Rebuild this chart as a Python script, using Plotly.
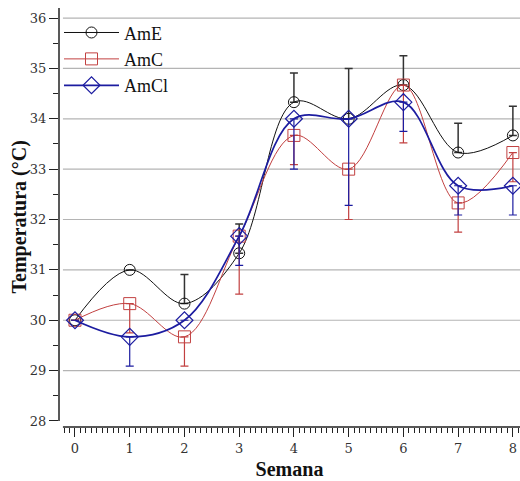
import plotly.graph_objects as go

semana = [0, 1, 2, 3, 4, 5, 6, 7, 8]

ame = [30.0, 31.0, 30.33, 31.33, 34.33, 34.0, 34.67, 33.33, 33.67]
ame_err_plus = [0, 0, 0.58, 0.58, 0.58, 1.0, 0.58, 0.58, 0.58]

amc = [30.0, 30.33, 29.67, 31.67, 33.67, 33.0, 34.67, 32.33, 33.33]
amc_err_minus = [0, 0.58, 0.58, 1.15, 0.58, 1.0, 1.15, 0.58, 0.58]

amcl = [30.0, 29.67, 30.0, 31.67, 34.0, 34.0, 34.33, 32.67, 32.67]
amcl_err_minus = [0, 0.58, 0, 0.58, 1.0, 1.72, 0.58, 0.58, 0.58]

y_ticks = [28, 29, 30, 31, 32, 33, 34, 35, 36]
grid_vals = [29, 30, 31, 32, 33, 34, 35, 36]

BLACK = "#111111"
RED = "#c24040"
BLUE = "#1c1ca0"

fig = go.Figure()

fig.add_trace(go.Scatter(
    x=semana, y=ame, name="AmE", mode="lines+markers",
    line=dict(color=BLACK, width=1, shape="spline", smoothing=1.0),
    marker=dict(symbol="circle-open", size=11, color=BLACK, line=dict(width=1, color=BLACK)),
    error_y=dict(type="data", array=ame_err_plus, arrayminus=[0] * len(ame),
                 symmetric=False, color="#333333", thickness=1.5, width=4),
))
fig.add_trace(go.Scatter(
    x=semana, y=amc, name="AmC", mode="lines+markers",
    line=dict(color=RED, width=1, shape="spline", smoothing=1.0),
    marker=dict(symbol="square-open", size=12, color=RED, line=dict(width=1, color=RED)),
    error_y=dict(type="data", array=[0] * len(amc), arrayminus=amc_err_minus,
                 symmetric=False, color=RED, thickness=1.2, width=4),
))
fig.add_trace(go.Scatter(
    x=semana, y=amcl, name="AmCl", mode="lines+markers",
    line=dict(color=BLUE, width=1.7, shape="spline", smoothing=1.0),
    marker=dict(symbol="diamond-open", size=13, color=BLUE, line=dict(width=1.2, color=BLUE)),
    error_y=dict(type="data", array=[0] * len(amcl), arrayminus=amcl_err_minus,
                 symmetric=False, color=BLUE, thickness=1.2, width=4),
))

x_start = -0.22
x_end = 8.2
shapes = []
for g in grid_vals:
    shapes.append(dict(type="line", xref="x", yref="y", x0=x_start, x1=x_end, y0=g, y1=g,
                       line=dict(color="#b4b4b4", width=1.2), layer="below"))
# offset axis lines (Origin style)
shapes.append(dict(type="line", xref="x", yref="paper", x0=x_start, x1=x_end, y0=0, y1=0,
                   line=dict(color="#222222", width=1.5)))
shapes.append(dict(type="line", xref="paper", yref="y", x0=0, x1=0, y0=y_ticks[0], y1=36.2,
                   line=dict(color="#222222", width=1.5)))

fig.update_layout(
    width=520, height=481,
    margin=dict(l=59, r=0, t=8, b=54),
    paper_bgcolor="white", plot_bgcolor="white",
    shapes=shapes,
    showlegend=True,
    legend=dict(x=0.0, y=0.985, xanchor="left", yanchor="top",
                font=dict(family="Liberation Serif", size=18, color="#111111"),
                bgcolor="rgba(0,0,0,0)", itemwidth=55, tracegroupgap=0),
    annotations=[dict(text="<b>Temperatura (°C)</b>", xref="paper", yref="paper",
                      x=-40 / 461, y=0.5, xanchor="center", yanchor="middle",
                      textangle=-90, showarrow=False,
                      font=dict(family="Liberation Serif", size=20, color="#111111"))],
    xaxis=dict(
        range=[-0.292, 8.13], tickvals=semana, ticktext=[str(v) for v in semana],
        showline=False, showgrid=False, zeroline=False,
        ticks="outside", ticklen=9, tickwidth=1.2, tickcolor="#222222",
        minor=dict(dtick=0.1, ticks="outside", ticklen=5, tickwidth=1, tickcolor="#222222", showgrid=False),
        tickfont=dict(family="DejaVu Serif", size=13, color="#333333"),
        title=dict(text="<b>Semana</b>", font=dict(family="Liberation Serif", size=20, color="#111111"), standoff=7),
    ),
    yaxis=dict(
        range=[27.88, 36.2], tickvals=y_ticks, ticktext=[str(v) for v in y_ticks],
        showline=False, showgrid=False, zeroline=False,
        ticks="outside", ticklen=9, tickwidth=1.2, tickcolor="#222222",
        minor=dict(dtick=0.5, ticks="outside", ticklen=5, tickwidth=1, tickcolor="#222222", showgrid=False),
        tickfont=dict(family="DejaVu Serif", size=13, color="#333333"),
    ),
)

fig.write_html("out.html")
